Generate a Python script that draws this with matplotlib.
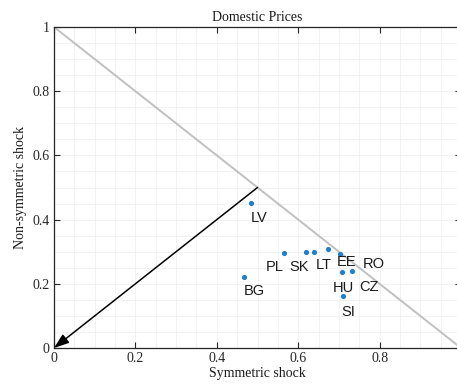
import matplotlib
matplotlib.use("Agg")
import matplotlib.pyplot as plt
import numpy as np

countries = ["LV", "PL", "SK", "LT", "EE", "RO", "HU", "CZ", "SI", "BG"]
sym = [0.484, 0.566, 0.620, 0.639, 0.674, 0.703, 0.708, 0.731, 0.709, 0.468]
nonsym = [0.452, 0.295, 0.299, 0.299, 0.309, 0.293, 0.236, 0.240, 0.163, 0.220]
label_x = [0.504, 0.543, 0.601, 0.662, 0.719, 0.785, 0.710, 0.775, 0.724, 0.491]
label_y = [0.405, 0.252, 0.252, 0.259, 0.268, 0.262, 0.187, 0.190, 0.112, 0.178]

frontier_x = [0, 1]
frontier_y = [1, 0]
arrow_start = (0.5, 0.5)
arrow_end = (0.0, 0.0)

xticks = [0, 0.2, 0.4, 0.6, 0.8, 1.0]
xticklabels = ["0", "0.2", "0.4", "0.6", "0.8", ""]
yticks = [0, 0.2, 0.4, 0.6, 0.8, 1.0]
yticklabels = ["0", "0.2", "0.4", "0.6", "0.8", "1"]

plt.rcParams['font.family'] = ['Liberation Serif', 'DejaVu Serif']

fig = plt.figure(figsize=(4.57, 3.85), dpi=100)
ax = fig.add_axes([54/457, 37/385, 407/457, 321/385])

ax.set_xlim(0, 1)
ax.set_ylim(0, 1)

ax.set_xticks(np.arange(0, 1.0001, 0.05), minor=True)
ax.set_yticks(np.arange(0, 1.0001, 0.05), minor=True)
ax.grid(True, which='both', color='#f0f0f0', linewidth=0.6)
ax.set_axisbelow(True)

ax.plot(frontier_x, frontier_y, color='#c0c0c0', linewidth=1.4, zorder=2)
ax.annotate("", xy=arrow_end, xytext=arrow_start,
            arrowprops=dict(arrowstyle='-|>,head_length=0.9,head_width=0.32',
                            color='black', lw=1.1, shrinkA=0, shrinkB=0),
            zorder=3)

ax.scatter(sym, nonsym, s=14, color='#1f7fcf', zorder=4, linewidths=0)
for name, lx, ly in zip(countries, label_x, label_y):
    ax.text(lx, ly, name, ha='center', va='center', fontsize=10.5,
            family=['Liberation Sans', 'DejaVu Sans'], color='#1a1a1a', zorder=5)

ax.set_xticks(xticks)
ax.set_xticklabels(xticklabels)
ax.set_yticks(yticks)
ax.set_yticklabels(yticklabels)
ax.tick_params(which='major', direction='in', top=True, right=True, length=4,
               width=0.8, labelsize=10, colors='#262626', pad=3)
ax.tick_params(which='minor', length=0)
for s in ax.spines.values():
    s.set_color('#262626')
    s.set_linewidth(0.9)

ax.set_title("Domestic Prices", fontsize=10, pad=4, color='#1a1a1a')
ax.set_xlabel("Symmetric shock", fontsize=10, labelpad=1, color='#1a1a1a')
ax.set_ylabel("Non-symmetric shock", fontsize=10, labelpad=4, color='#1a1a1a')

fig.savefig("out.png", dpi=100)
